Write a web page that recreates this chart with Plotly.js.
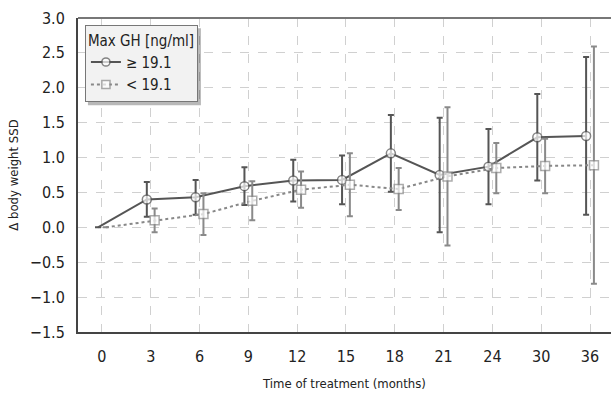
<!DOCTYPE html>
<html>
<head>
<meta charset="utf-8">
<script src="https://cdn.plot.ly/plotly-3.0.1.min.js"></script>
<style>html,body{margin:0;padding:0;background:#fff}#chart{width:611px;height:397px}</style>
</head>
<body>
<div id="chart"></div>
<script>
// Categories (months)
const months = ["0", "3", "6", "9", "12", "15", "18", "21", "24", "30", "36"];
// Max GH >= 19.1
const highMean = [0.00, 0.40, 0.43, 0.59, 0.67, 0.68, 1.06, 0.75, 0.87, 1.29, 1.31];
const highErr  = [0, 0.25, 0.25, 0.27, 0.30, 0.35, 0.55, 0.82, 0.54, 0.62, 1.13];
// Max GH < 19.1
const lowMean = [0.00, 0.10, 0.19, 0.38, 0.54, 0.61, 0.55, 0.73, 0.85, 0.88, 0.89];
const lowErr  = [0, 0.17, 0.30, 0.28, 0.26, 0.45, 0.30, 0.99, 0.36, 0.39, 1.70];
const seriesNames = ["\u2265 19.1", "< 19.1"];
const legendTitle = "Max GH [ng/ml]";
const xTitle = "Time of treatment (months)";
const yTitle = "\u0394 body weight SSD";

const idx = months.map((_, i) => i);
const off = 0.08;
const sizes = idx.map(i => i === 0 ? 0 : 9);
const FONT = "'DejaVu Sans Condensed', 'Liberation Sans Narrow', 'Arial Narrow', sans-serif";

const traces = [
  {
    x: idx.map(i => i - off), y: highMean, name: seriesNames[0],
    type: "scatter", mode: "lines+markers",
    line: {color: "#555", width: 2},
    marker: {symbol: "circle", size: sizes, color: "#fff", line: {color: "#555", width: 1.5}},
    error_y: {type: "data", array: highErr, visible: true, color: "#555", thickness: 2, width: 3}
  },
  {
    x: idx.map(i => i + off), y: lowMean, name: seriesNames[1],
    type: "scatter", mode: "lines+markers",
    line: {color: "#888", width: 2, dash: "dot"},
    marker: {symbol: "square", size: sizes, color: "#fff", line: {color: "#8a8a8a", width: 1.5}},
    error_y: {type: "data", array: lowErr, visible: true, color: "#8a8a8a", thickness: 2, width: 3}
  }
];

const M = {l: 78, r: 0, t: 18, b: 65};
const W = 611, H = 397;
const legX = 0.013, legY = 0.977;

const layout = {
  width: W, height: H,
  margin: M,
  paper_bgcolor: "#fff", plot_bgcolor: "#fff",
  font: {family: FONT, size: 15, color: "#222"},
  showlegend: true,
  legend: {
    x: legX, y: legY, xanchor: "left", yanchor: "top",
    bgcolor: "#f2f2f2", bordercolor: "#777", borderwidth: 1,
    title: {text: legendTitle, font: {family: FONT, size: 15, color: "#222"}},
    font: {family: FONT, size: 15, color: "#222"},
    itemwidth: 30, tracegroupgap: 0
  },
  xaxis: {
    range: [-0.49, 10.43],
    tickmode: "array", tickvals: idx, ticktext: months,
    showgrid: true, gridcolor: "#d0d0d0", griddash: "dash", gridwidth: 1,
    zeroline: false,
    showline: true, linecolor: "#444", linewidth: 2,
    ticks: "outside", ticklen: 9, tickcolor: "rgba(0,0,0,0)",
    tickfont: {family: FONT, size: 16, color: "#222"},
    title: {text: xTitle, font: {family: FONT, size: 13, color: "#222"}, standoff: 14}
  },
  yaxis: {
    range: [-1.5, 3.0],
    tickvals: [-1.5, -1.0, -0.5, 0, 0.5, 1.0, 1.5, 2.0, 2.5, 3.0],
    ticktext: ["\u22121.5", "\u22121.0", "\u22120.5", "0.0", "0.5", "1.0", "1.5", "2.0", "2.5", "3.0"],
    showgrid: true, gridcolor: "#d0d0d0", griddash: "dash", gridwidth: 1,
    zeroline: false,
    showline: true, linecolor: "#444", linewidth: 2,
    ticks: "outside", ticklen: 8, tickcolor: "rgba(0,0,0,0)",
    tickfont: {family: FONT, size: 16, color: "#222"},
    title: {text: yTitle, font: {family: FONT, size: 13, color: "#222"}, standoff: 8}
  },
  shapes: [
    {type: "line", xref: "paper", yref: "paper", x0: 0, x1: 1, y0: 1, y1: 1,
     line: {color: "#777", width: 2}}
  ]
};

const gd = document.getElementById("chart");
Plotly.newPlot(gd, traces, layout, {displayModeBar: false, staticPlot: true}).then(() => {
  const lg = gd._fullLayout.legend;
  const pw = W - M.l - M.r, ph = H - M.t - M.b;
  const lw = lg._width || 120, lh = lg._height || 78;
  const left = M.l + legX * pw, top = M.t + (1 - legY) * ph;
  const s = 3;
  const shadow = {
    type: "rect", xref: "paper", yref: "paper", layer: "above",
    x0: (left + s - M.l) / pw, x1: (left + lw + s - M.l) / pw,
    y0: 1 - (top + lh + s - M.t) / ph, y1: 1 - (top + s - M.t) / ph,
    fillcolor: "rgba(0,0,0,0.28)", line: {width: 0}
  };
  return Plotly.relayout(gd, {shapes: layout.shapes.concat([shadow])});
});
</script>
</body>
</html>
